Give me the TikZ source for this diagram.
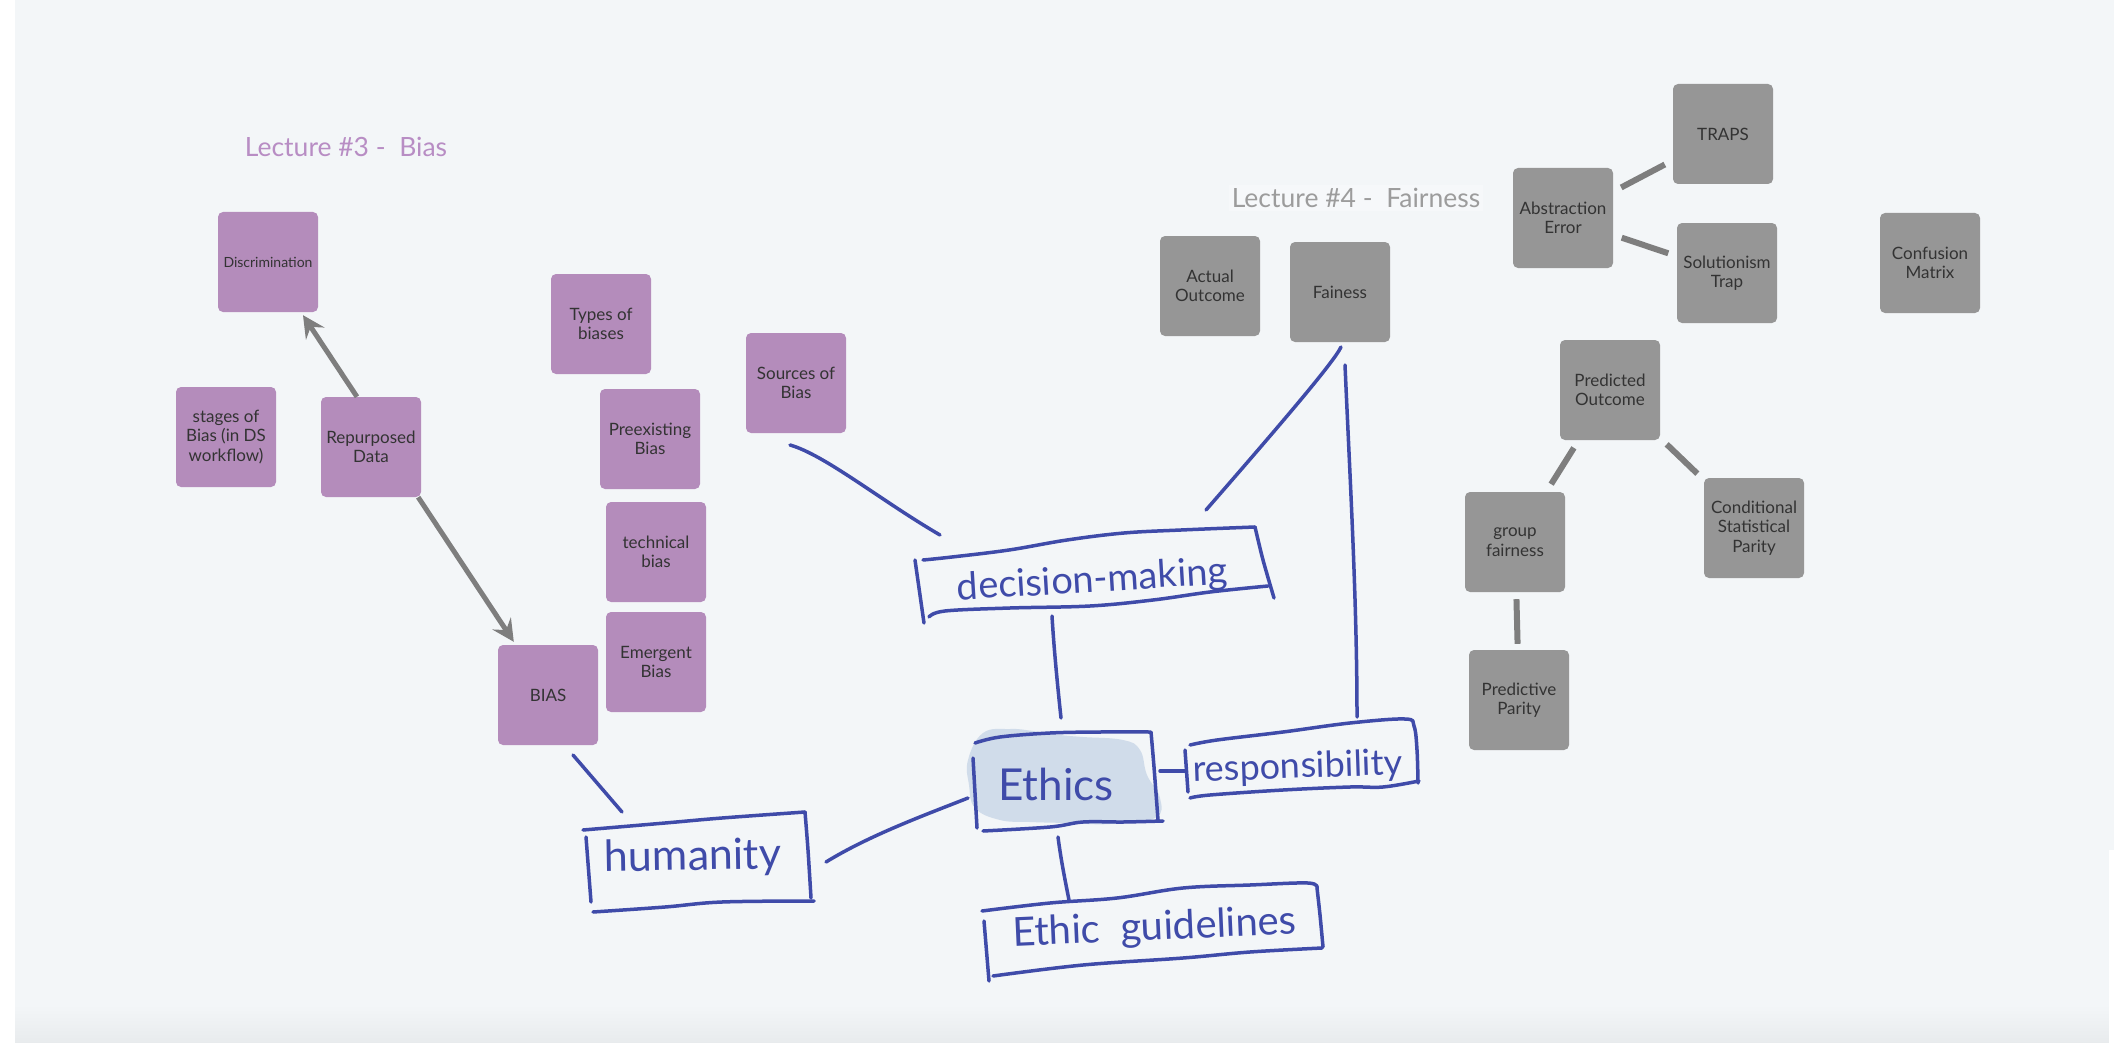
\documentclass[tikz,border=0pt]{standalone}
\usepackage{fontspec}
\setmainfont{Lato}
\usetikzlibrary{arrows.meta,calc}
\definecolor{bgc}{HTML}{F3F6F8}
\definecolor{bgdark}{HTML}{E8EBED}
\definecolor{purp}{HTML}{B48CBB}
\definecolor{purptitle}{HTML}{B88DC4}
\definecolor{grayb}{HTML}{969696}
\definecolor{graytitle}{HTML}{9C9C9C}
\definecolor{titlebg}{HTML}{F6F8FA}
\definecolor{boxtext}{HTML}{333333}
\definecolor{inkc}{HTML}{3F4BA9}
\definecolor{inkfill}{HTML}{D0DCEA}
\definecolor{connc}{HTML}{7E7E7E}
\begin{document}
\begin{tikzpicture}[x=1pt,y=-1pt,
  card/.style={rectangle, rounded corners=5pt, minimum width=100pt, minimum height=100pt,
    inner sep=0pt, align=center, text=boxtext, font=\fontsize{17}{19.5}\selectfont},
  pcard/.style={card, fill=purp},
  gcard/.style={card, fill=grayb},
  gline/.style={draw=connc, line width=6pt, shorten <=9pt, shorten >=9pt},
  garrow/.style={draw=connc, line width=5pt, -{Stealth[length=22pt,width=22pt,inset=8pt]}},
  pen/.style={draw=inkc, line width=3.5pt, line cap=round, line join=round},
  hand/.style={text=inkc, inner sep=0pt, anchor=base},
  lecture/.style={font=\fontsize{26.5}{30}\selectfont, inner sep=3pt}
]
\useasboundingbox (0,0) rectangle (2114,1043);
% background
\fill[white] (0,0) rectangle (2114,1043);
\fill[bgc] (15,0) rectangle (2114,1043);
\shade[top color=bgc, bottom color=bgdark] (15,1005) rectangle (2114,1043);
\fill[white] (2109,850) rectangle (2114,1043);

% titles
\node[lecture, text=purptitle] (t3) at (346,147) {Lecture \#3 -\ \ Bias};
\node[lecture, text=graytitle, fill=titlebg] (t4) at (1356,198) {Lecture \#4 -\ \ Fairness};

% purple cards
\node[pcard, font=\fontsize{14}{16}\selectfont] (disc) at (268,262) {Discrimination};
\node[pcard] (stages) at (226,437) {stages of\\Bias (in DS\\workflow)};
\node[pcard] (rep) at (371,447) {Repurposed\\Data};
\node[pcard] (types) at (601,324) {Types of\\biases};
\node[pcard] (pre) at (650,439) {Preexisting\\Bias};
\node[pcard] (tech) at (656,552) {technical\\bias};
\node[pcard] (emer) at (656,662) {Emergent\\Bias};
\node[pcard] (bias) at (548,695) {BIAS};
\node[pcard] (src) at (796,383) {Sources of\\Bias};

% gray cards
\node[gcard] (act) at (1210,286) {Actual\\Outcome};
\node[gcard] (fain) at (1340,292) {Fainess};
\node[gcard] (abs) at (1563,218) {Abstraction\\Error};
\node[gcard] (traps) at (1723,134) {TRAPS};
\node[gcard] (sol) at (1727,273) {Solutionism\\Trap};
\node[gcard] (conf) at (1930,263) {Confusion\\Matrix};
\node[gcard] (pred) at (1610,390) {Predicted\\Outcome};
\node[gcard] (grp) at (1515,542) {group\\fairness};
\node[gcard] (cond) at (1754,528) {Conditional\\Statistical\\Parity};
\node[gcard] (pp) at (1519,700) {Predictive\\Parity};

% gray connectors
\draw[gline] (abs) -- (traps);
\draw[gline] (abs) -- (sol);
\draw[gline] (pred) -- (grp);
\draw[gline] (pred) -- (cond);
\draw[gline, shorten <=7pt, shorten >=6pt] (grp) -- (pp);

% arrows
\draw[garrow] ($(rep.north)+(-14,0)$) -- ($(disc.south)+(35,3)$);
\draw[garrow] ($(rep.south east)+(-3,0)$) -- ($(bias.north west)+(16,-3)$);

% ---- hand-drawn part ----
% Ethics highlight
\fill[inkfill] plot[smooth cycle, tension=0.7] coordinates {(983,733) (1010,729) (1033,731) (1060,735)
  (1083,737) (1123,740) (1140,750) (1147,775) (1160,798) (1155,818) (1110,824) (1067,823)
  (1030,822) (1000,820) (975,808) (969,785) (968,760)};

% decision-making box
\draw[pen] plot[smooth, tension=0.6] coordinates {(923,560) (952,557) (1009,550) (1067,540) (1124,533) (1181,530) (1255,527)};
\draw[pen] plot[smooth] coordinates {(1255,527) (1263,560) (1274,598)};
\draw[pen] plot[smooth, tension=0.6] coordinates {(929,617) (945,611) (1010,608) (1090,606) (1153,600) (1210,592) (1268,586)};
\draw[pen] (915,560) -- (924,623);
\node[hand, font=\fontsize{38}{40}\selectfont, rotate=3.5] (dm) at (1093,592) {decision-making};

% Ethics box
\draw[pen] plot[smooth, tension=0.6] coordinates {(975,743) (1000,737) (1050,733) (1100,732) (1150,732)};
\draw[pen] plot[smooth] coordinates {(1151,732) (1154,767) (1158,820)};
\draw[pen] plot[smooth, tension=0.6] coordinates {(983,831) (1050,827) (1083,822) (1123,822) (1163,821)};
\draw[pen] (973,758) -- (977,828);
\node[hand, font=\fontsize{44}{46}\selectfont] (eth) at (1056,800) {Ethics};

% responsibility box
\draw[pen] plot[smooth, tension=0.6] coordinates {(1190,745) (1217,740) (1283,732) (1350,723) (1405,719) (1414,726) (1417,750) (1418,783)};
\draw[pen] plot[smooth, tension=0.6] coordinates {(1190,798) (1210,795) (1283,790) (1350,787) (1383,787) (1419,781)};
\draw[pen] (1185,750) -- (1188,792);
\node[hand, font=\fontsize{36}{38}\selectfont, rotate=2] (resp) at (1298,778) {responsibility};

% humanity box
\draw[pen] plot[smooth, tension=0.6] coordinates {(583,830) (665,823) (722,818) (805,812)};
\draw[pen] plot[smooth] coordinates {(805,812) (808,850) (811,898)};
\draw[pen] plot[smooth, tension=0.6] coordinates {(593,912) (665,907) (722,902) (814,901)};
\draw[pen] (586,837) -- (591,902);
\node[hand, font=\fontsize{43}{45}\selectfont, rotate=1] (hum) at (693,870) {humanity};

% Ethic guidelines box
\draw[pen] plot[smooth, tension=0.6] coordinates {(982,911) (1050,903) (1117,898) (1183,888) (1250,885) (1308,883) (1317,888)};
\draw[pen] plot[smooth] coordinates {(1317,888) (1320,915) (1323,947)};
\draw[pen] plot[smooth, tension=0.6] coordinates {(993,976) (1083,965) (1183,958) (1250,952) (1322,948)};
\draw[pen] (984,921) -- (989,981);
\node[hand, font=\fontsize{40}{42}\selectfont, rotate=2.5] (eg) at (1155,940) {Ethic\ \ guidelines};

% hand-drawn connectors (free ends as named coordinates)
\coordinate (srcA) at (790,445);   \coordinate (dmA) at (940,535);
\coordinate (fainA) at (1341,347); \coordinate (dmB) at (1206,510);
\coordinate (fainB) at (1345,365); \coordinate (respA) at (1357,717);
\coordinate (dmC) at (1052,616);   \coordinate (ethA) at (1061,718);
\coordinate (ethB) at (1160,771);  \coordinate (respB) at (1185,771);
\coordinate (ethC) at (968,798);   \coordinate (humA) at (826,862);
\coordinate (biasA) at (573,755);  \coordinate (humB) at (622,812);
\coordinate (ethD) at (1058,837);  \coordinate (egA) at (1069,900);

\draw[pen] (srcA) .. controls (825,455) and (880,500) .. (dmA);
\draw[pen] (fainA) .. controls (1334,362) and (1280,425) .. (dmB);
\draw[pen] (fainB) .. controls (1350,480) and (1357,600) .. (respA);
\draw[pen] (dmC) .. controls (1054,650) and (1058,690) .. (ethA);
\draw[pen] (ethB) -- (respB);
\draw[pen] (ethC) .. controls (925,815) and (870,835) .. (humA);
\draw[pen] (biasA) -- (humB);
\draw[pen] (ethD) .. controls (1061,860) and (1065,880) .. (egA);
\end{tikzpicture}
\end{document}
